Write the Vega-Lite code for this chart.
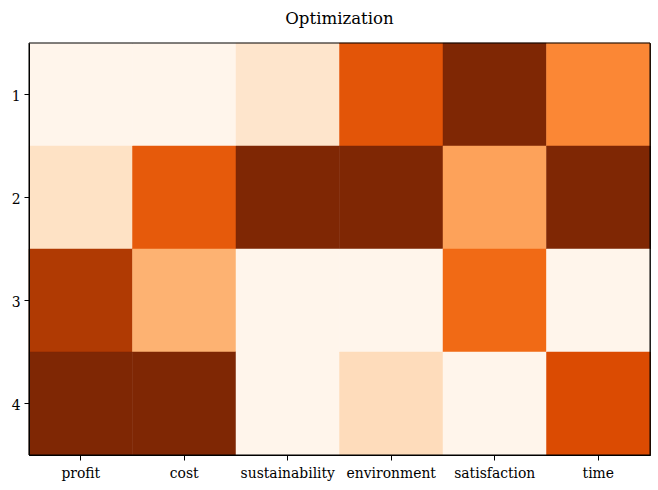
{
  "$schema": "https://vega.github.io/schema/vega-lite/v6.json",
  "width": 621,
  "height": 412,
  "autosize": {"type": "none"},
  "padding": {"left": 29, "top": 43, "right": 8, "bottom": 35},
  "background": "white",
  "title": {"text": "Optimization", "font": "DejaVu Serif", "fontSize": 16.6, "fontWeight": "normal", "color": "black", "anchor": "middle", "offset": 15},
  "layer": [
    {
      "data": {"values": [
        {"row": "1", "col": "profit", "v": 0.0},
        {"row": "1", "col": "cost", "v": 0.0},
        {"row": "1", "col": "sustainability", "v": 0.13},
        {"row": "1", "col": "environment", "v": 0.7},
        {"row": "1", "col": "satisfaction", "v": 1.0},
        {"row": "1", "col": "time", "v": 0.52},
        {"row": "2", "col": "profit", "v": 0.15},
        {"row": "2", "col": "cost", "v": 0.68},
        {"row": "2", "col": "sustainability", "v": 1.0},
        {"row": "2", "col": "environment", "v": 1.0},
        {"row": "2", "col": "satisfaction", "v": 0.42},
        {"row": "2", "col": "time", "v": 1.0},
        {"row": "3", "col": "profit", "v": 0.85},
        {"row": "3", "col": "cost", "v": 0.36},
        {"row": "3", "col": "sustainability", "v": 0.0},
        {"row": "3", "col": "environment", "v": 0.0},
        {"row": "3", "col": "satisfaction", "v": 0.62},
        {"row": "3", "col": "time", "v": 0.0},
        {"row": "4", "col": "profit", "v": 1.0},
        {"row": "4", "col": "cost", "v": 1.0},
        {"row": "4", "col": "sustainability", "v": 0.0},
        {"row": "4", "col": "environment", "v": 0.18},
        {"row": "4", "col": "satisfaction", "v": 0.0},
        {"row": "4", "col": "time", "v": 0.74}
      ]},
      "mark": {"type": "rect", "strokeWidth": 0.5},
      "encoding": {
        "x": {"field": "col", "type": "nominal", "sort": ["profit", "cost", "sustainability", "environment", "satisfaction", "time"],
          "scale": {"paddingInner": 0, "paddingOuter": 0},
          "axis": {"title": null, "labelAngle": 0, "labelFont": "DejaVu Serif", "labelFontSize": 13.9, "labelColor": "black", "tickColor": "black", "tickSize": 5, "domainColor": "black", "labelPadding": 6}},
        "y": {"field": "row", "type": "nominal", "sort": ["1", "2", "3", "4"],
          "scale": {"paddingInner": 0, "paddingOuter": 0},
          "axis": {"title": null, "labelFont": "DejaVu Serif", "labelFontSize": 13.9, "labelColor": "black", "tickColor": "black", "tickSize": 5, "domainColor": "black", "labelPadding": 4, "labelOffset": 2}},
        "color": {"field": "v", "type": "quantitative", "scale": {"domain": [0, 0.125, 0.25, 0.375, 0.5, 0.625, 0.75, 0.875, 1], "range": ["#fff5eb", "#fee6ce", "#fdd0a2", "#fdae6b", "#fd8d3c", "#f16913", "#d94801", "#a63603", "#7f2704"], "interpolate": "rgb"}, "legend": null},
        "stroke": {"field": "v", "type": "quantitative", "scale": {"domain": [0, 0.125, 0.25, 0.375, 0.5, 0.625, 0.75, 0.875, 1], "range": ["#fff5eb", "#fee6ce", "#fdd0a2", "#fdae6b", "#fd8d3c", "#f16913", "#d94801", "#a63603", "#7f2704"], "interpolate": "rgb"}, "legend": null}
      }
    },
    {
      "data": {"values": [{"frame": 1}]},
      "mark": {"type": "rect", "fill": null, "fillOpacity": 0, "stroke": "black", "strokeWidth": 1},
      "encoding": {}
    }
  ],
  "config": {"view": {"stroke": "black", "strokeWidth": 1}}
}
